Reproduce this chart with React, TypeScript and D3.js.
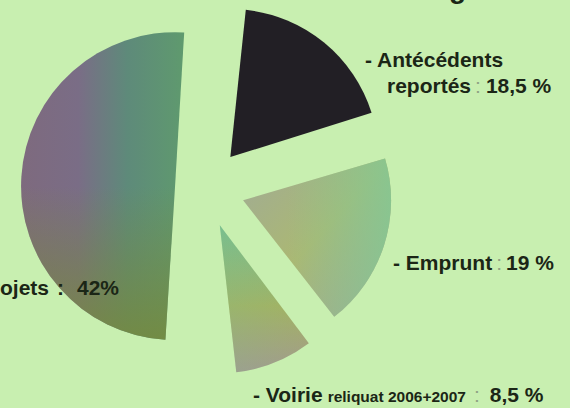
import React from "react";
import * as d3 from "d3";

const categories = ["Antécédents reportés", "Emprunt", "Voirie", "Projets"];
const values = [18.5, 19, 8.5, 42];
const valueTexts = ["18,5 %", "19 %", "8,5 %", "42%"];
const voirieNote = "reliquat 2006+2007";

const W = 570;
const H = 408;
const BG = "#c8efb0";
const TEXT = "#1b2616";
const COLON = "#8fa384";
const FONT = "'Liberation Sans', Arial, Helvetica, sans-serif";

const cx = 205;
const cy = 188;
const toRad = (d: number) => (d * Math.PI) / 180;
const START = toRad(6);
const SMALL_GAP = toRad(1);
const BIG_GAP_BEFORE = toRad(10);
const BIG_GAP_AFTER = toRad(2.6);

const angle = d3.scaleLinear().domain([0, 100]).range([0, 2 * Math.PI]);

type Slice = { a0: number; a1: number; r: number; off: number; i: number };

function buildSlices(): Slice[] {
  const out: Slice[] = [];
  let cursor = START;
  const last = values.length - 1;
  for (let i = 0; i < last; i++) {
    const a0 = cursor;
    const a1 = a0 + angle(values[i]);
    out.push({ a0, a1, r: 148, off: 40, i });
    cursor = a1 + SMALL_GAP;
  }
  const prevEnd = out[out.length - 1].a1;
  out.push({
    a0: prevEnd + BIG_GAP_BEFORE,
    a1: START + 2 * Math.PI - BIG_GAP_AFTER,
    r: 154,
    off: 30,
    i: last,
  });
  return out;
}

const fills = ["#221f25", "url(#gEmp)", "url(#gVoi)", "url(#gPro)"];
const overlays = [null, "url(#gEmpO)", "url(#gVoiO)", "url(#gProO)"];

export default function App() {
  const slices = buildSlices();
  const arcGen = d3.arc<any>();
  return (
    <svg
      width={W}
      height={H}
      viewBox={`0 0 ${W} ${H}`}
      style={{ position: "fixed", left: 0, top: 0, display: "block" }}
    >
      <defs>
        <linearGradient id="gEmp" x1="0" y1="0" x2="1" y2="1">
          <stop offset="0" stopColor="#a0ab96" />
          <stop offset="0.5" stopColor="#abb873" />
          <stop offset="1" stopColor="#a2a399" />
        </linearGradient>
        <linearGradient id="gEmpO" x1="0.3" y1="0" x2="1" y2="0">
          <stop offset="0" stopColor="#86c792" stopOpacity="0" />
          <stop offset="1" stopColor="#86c792" stopOpacity="0.9" />
        </linearGradient>
        <linearGradient id="gVoi" x1="0" y1="0" x2="0" y2="1">
          <stop offset="0" stopColor="#78be8e" />
          <stop offset="0.55" stopColor="#a3b262" />
          <stop offset="1" stopColor="#a39a8e" />
        </linearGradient>
        <linearGradient id="gVoiO" x1="0" y1="0" x2="1" y2="0">
          <stop offset="0" stopColor="#7cc090" stopOpacity="0.25" />
          <stop offset="1" stopColor="#7cc090" stopOpacity="0" />
        </linearGradient>
        <linearGradient id="gPro" x1="0" y1="0" x2="1" y2="0">
          <stop offset="0" stopColor="#7e6a7e" />
          <stop offset="0.35" stopColor="#7a6d86" />
          <stop offset="0.65" stopColor="#5e8a7a" />
          <stop offset="1" stopColor="#5f9a6e" />
        </linearGradient>
        <linearGradient id="gProO" x1="0" y1="0" x2="0" y2="1">
          <stop offset="0.5" stopColor="#768a3c" stopOpacity="0" />
          <stop offset="1" stopColor="#768a3c" stopOpacity="0.85" />
        </linearGradient>
      </defs>
      <rect x={0} y={0} width={W} height={H} fill={BG} />

      {slices.map((s) => {
        const mid = (s.a0 + s.a1) / 2;
        const dx = s.off * Math.sin(mid);
        const dy = -s.off * Math.cos(mid);
        const d = arcGen({
          innerRadius: 0,
          outerRadius: s.r,
          startAngle: s.a0,
          endAngle: s.a1,
        }) as string;
        return (
          <g key={categories[s.i]} transform={`translate(${cx + dx},${cy + dy})`}>
            <path d={d} fill={fills[s.i]} />
            {overlays[s.i] && <path d={d} fill={overlays[s.i] as string} />}
          </g>
        );
      })}

      <g fontFamily={FONT} fontWeight="bold" fill={TEXT} fontSize={21}>
        {/* cut-off title descender */}
        <text x={449} y={-2} fontSize={28}>g</text>

        <text x={365} y={67}>- {categories[0].split(" ")[0]}</text>
        <text x={387} y={93}>
          {categories[0].split(" ")[1]}
          <tspan fill={COLON} fontWeight="normal" dx={4}>:</tspan>
          <tspan dx={5}>{valueTexts[0]}</tspan>
        </text>

        <text x={393} y={270}>
          - {categories[1]}
          <tspan fill={COLON} fontWeight="normal" dx={4}>:</tspan>
          <tspan dx={4}>{valueTexts[1]}</tspan>
        </text>

        <text x={253} y={402}>
          - {categories[2]}
          <tspan fontSize={15.5} dx={5}>{voirieNote}</tspan>
          <tspan fill={COLON} fontWeight="normal" dx={8}>:</tspan>
          <tspan dx={10}>{valueTexts[2]}</tspan>
        </text>

        <text x={49} y={295} textAnchor="end">- {categories[3]}</text>
        <text x={57} y={295}>:</text>
        <text x={77} y={295}>{valueTexts[3]}</text>
      </g>
    </svg>
  );
}
